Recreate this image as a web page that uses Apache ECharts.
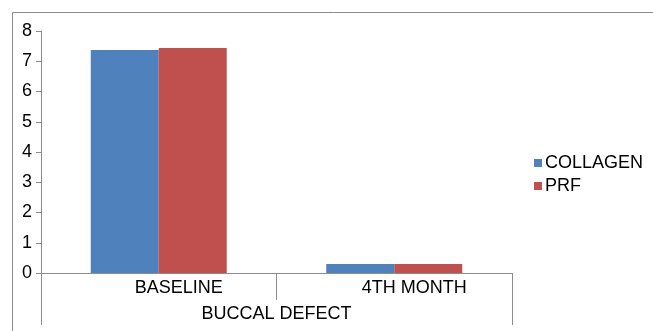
<!DOCTYPE html>
<html>
<head>
<meta charset="utf-8">
<script src="https://cdn.jsdelivr.net/npm/echarts@6/dist/echarts.min.js"></script>
<style>html,body{margin:0;padding:0;background:#fff}#c{width:653px;height:331px}</style>
</head>
<body>
<div id="c"></div>
<script>
var categories = ['BASELINE', '4TH MONTH'];
var groupLabel = ['BUCCAL DEFECT'];
var seriesNames = ['COLLAGEN', 'PRF'];
var collagen = [7.37, 0.3];
var prf = [7.44, 0.3];

var FONT = 'Liberation Sans, Arial, sans-serif';
var GRAY = '#8c8c8c';
var chart = echarts.init(document.getElementById('c'));
chart.setOption({
  animation: false,
  textStyle: { fontFamily: FONT },
  graphic: [{
    type: 'rect', silent: true,
    shape: { x: 12.5, y: 12.5, width: 700, height: 400 },
    style: { fill: 'none', stroke: GRAY, lineWidth: 1 }
  }],
  grid: { left: 41, right: 141, top: 31, bottom: 58 },
  legend: {
    orient: 'vertical', left: 529, top: 149,
    itemWidth: 8, itemHeight: 8, itemGap: 5, icon: 'rect',
    textStyle: { fontFamily: FONT, fontSize: 18, color: '#000', padding: [0, 0, 0, -2] },
    data: seriesNames
  },
  xAxis: [{
    type: 'category', data: categories, position: 'bottom',
    axisLine: { lineStyle: { color: GRAY, width: 1 } },
    axisTick: { show: true, interval: 0, length: 27, lineStyle: { color: GRAY } },
    axisLabel: { interval: 0, margin: 6, color: '#000', fontSize: 18, fontFamily: FONT, padding: [0, 0, 0, 40] }
  }, {
    type: 'category', data: groupLabel, position: 'bottom', offset: 27,
    axisLine: { show: false },
    axisTick: { show: true, interval: 0, length: 25, lineStyle: { color: GRAY } },
    axisLabel: { margin: 5, color: '#000', fontSize: 18, fontFamily: FONT }
  }],
  yAxis: {
    type: 'value', min: 0, max: 8, interval: 1,
    splitLine: { show: false },
    axisLine: { show: true, lineStyle: { color: GRAY, width: 1 } },
    axisTick: { show: true, length: 5, lineStyle: { color: GRAY } },
    axisLabel: { margin: 9, color: '#000', fontSize: 18, fontFamily: FONT, padding: [0, 0, 10, 0] }
  },
  series: [{
    name: seriesNames[0], type: 'bar', xAxisIndex: 0, data: collagen,
    barWidth: 68, barGap: '0%', itemStyle: { color: '#4F81BD' }
  }, {
    name: seriesNames[1], type: 'bar', xAxisIndex: 0, data: prf,
    barWidth: 68, barGap: '0%', itemStyle: { color: '#C0504D' }
  }]
});
</script>
</body>
</html>
